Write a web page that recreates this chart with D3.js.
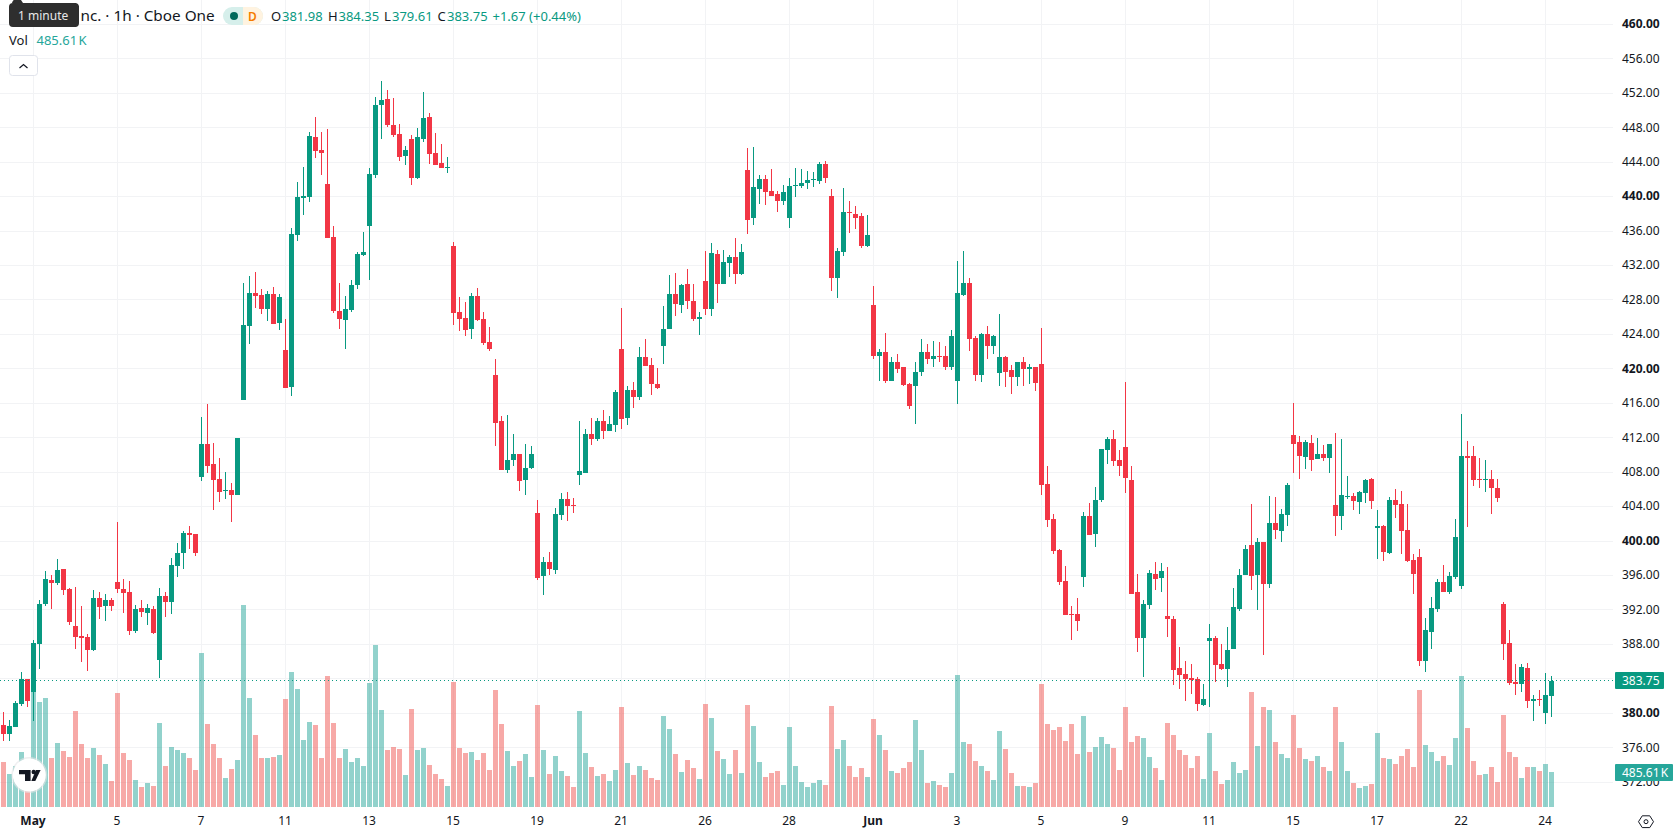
<!DOCTYPE html>
<html>
<head>
<meta charset="utf-8">
<title>1h candles</title>
<script src="https://cdnjs.cloudflare.com/ajax/libs/d3/7.8.5/d3.min.js"></script>
<style>
  html, body { margin: 0; padding: 0; background: #fff; overflow: hidden; }
  svg { display: block; font-family: "Noto Sans", sans-serif; }
  .crisp { shape-rendering: crispEdges; }
</style>
</head>
<body>
<svg id="chart" width="1678" height="835"></svg>
<script>
// Hourly session bars, oldest first
const opens = [
378.64,377.60,378.41,381.09,383.99,382.48,388.06,392.71,395.50,395.16,
396.78,394.46,390.16,388.99,388.88,387.36,393.41,392.48,393.18,395.27,
394.46,394.11,389.57,392.25,391.67,392.13,386.20,393.64,392.95,397.13,
398.64,400.97,400.85,407.48,411.32,408.99,407.25,405.85,405.97,405.39,
416.39,424.99,428.83,428.60,426.97,428.71,425.34,422.20,417.90,435.57,
439.88,439.99,446.97,445.46,441.50,435.34,426.74,425.69,426.85,429.76,
433.25,436.62,442.55,450.69,451.39,448.36,447.32,444.67,446.64,442.22,
446.64,449.20,445.02,443.85,443.27,434.32,426.64,425.95,424.67,428.50,
425.83,423.16,419.32,413.97,408.27,409.43,410.16,407.13,408.53,403.29,
395.97,397.60,396.67,403.06,404.92,404.23,407.69,407.92,412.46,411.88,
413.97,412.81,413.50,422.34,414.32,417.57,416.76,421.41,420.48,418.27,
422.69,424.67,428.74,427.46,429.90,427.92,425.83,430.25,426.99,433.39,
429.90,432.34,433.04,431.06,443.04,437.46,440.83,441.99,440.60,440.25,
439.55,437.57,441.18,441.18,441.53,441.88,441.76,443.74,440.13,430.60,
433.62,438.26,438.02,437.79,434.30,427.36,421.55,421.90,418.64,420.74,
420.16,418.29,418.06,419.69,421.90,421.20,421.55,421.55,420.27,418.64,
428.53,429.92,423.53,419.34,423.99,422.71,419.57,421.43,419.81,419.11,
420.74,420.04,420.16,420.62,406.67,402.60,398.99,395.39,391.55,391.55,
395.85,402.95,400.85,404.81,410.62,411.90,409.46,410.97,407.13,394.11,
388.76,392.60,396.20,395.74,391.32,390.97,385.27,384.57,384.11,383.99,
380.97,388.41,388.76,385.74,385.16,387.48,392.13,396.04,399.53,396.04,
399.88,394.99,402.09,401.15,403.02,412.32,411.50,409.76,411.39,409.53,
410.11,409.64,404.18,402.90,405.11,405.22,404.53,405.57,407.20,401.50,
401.74,398.60,404.76,404.29,401.27,397.78,398.13,386.04,389.41,392.09,
395.22,394.06,395.81,394.76,409.88,409.88,407.20,407.09,407.20,406.16,
392.67,388.13,383.60,383.36,385.22,381.43,381.67,380.04,381.98];

const highs = [
380.16,379.22,381.43,384.81,383.99,388.53,393.18,396.55,396.09,397.95,
396.78,394.57,394.69,392.48,389.22,394.34,394.11,393.88,393.41,402.25,
395.62,395.39,392.60,393.18,392.71,392.48,394.57,394.11,398.06,399.81,
401.20,401.78,400.85,414.46,415.92,411.43,409.69,408.06,406.78,412.02,
429.99,430.81,431.27,429.29,429.06,429.53,428.71,425.81,436.39,441.74,
443.48,447.55,449.29,447.55,447.90,436.62,429.99,428.48,430.34,433.60,
435.92,443.36,451.62,453.48,452.43,451.50,448.48,445.83,447.11,447.92,
452.11,449.67,447.34,446.06,444.55,434.78,428.39,427.81,428.85,429.43,
426.64,424.90,421.18,414.55,414.67,412.46,410.16,411.32,411.09,404.81,
398.18,398.76,403.88,405.62,405.74,405.04,413.97,413.04,414.32,414.32,
415.25,414.55,417.57,427.11,418.04,418.50,422.57,423.50,421.29,420.13,
427.34,430.95,431.18,429.90,431.64,429.90,426.64,433.74,434.67,433.85,
433.85,433.27,435.25,434.55,445.60,445.71,442.46,442.46,443.16,440.71,
441.30,442.22,443.27,443.16,442.92,442.81,443.97,444.09,440.83,434.09,
441.05,439.55,438.95,438.14,437.91,429.57,422.25,424.11,421.32,421.67,
420.16,418.41,420.85,423.41,422.83,423.29,423.06,422.60,424.46,432.48,
433.64,430.50,423.76,424.22,424.92,423.88,426.32,421.55,420.50,420.74,
421.32,420.62,420.27,424.69,408.76,403.18,399.11,397.13,392.48,393.41,
403.41,404.46,406.32,410.74,412.13,412.95,410.62,418.53,408.76,396.20,
393.18,396.67,397.60,397.48,397.02,391.32,387.71,386.09,385.74,384.22,
383.41,390.39,388.99,388.06,390.04,394.57,396.78,399.53,404.29,400.34,
399.88,405.22,405.11,403.71,406.74,416.04,412.20,411.74,412.32,411.97,
411.15,411.27,412.55,411.85,407.55,405.57,405.81,407.20,407.32,403.60,
401.85,405.11,406.04,405.81,404.29,398.48,399.06,391.04,393.48,395.57,
397.20,396.39,402.55,414.76,411.62,411.04,409.64,409.41,408.25,407.20,
392.90,389.64,385.69,385.69,385.81,382.13,382.71,384.69,384.35];

const lows = [
376.78,376.78,378.41,380.85,380.74,379.11,385.16,392.48,392.13,394.92,
393.76,390.27,387.48,385.97,384.92,387.25,390.97,390.74,391.90,393.99,
391.67,389.11,389.34,391.20,390.27,389.22,384.11,391.20,391.55,395.85,
396.78,399.11,398.29,407.02,407.95,403.64,404.57,404.92,402.25,405.39,
416.39,422.90,427.09,426.39,425.57,425.22,424.53,417.78,416.85,434.88,
437.90,439.41,444.53,442.55,435.22,426.50,424.64,422.32,426.62,429.29,
433.13,430.34,442.20,446.74,448.13,446.97,444.18,443.62,441.30,441.99,
446.29,443.74,443.62,443.27,442.69,425.13,424.43,423.85,423.50,425.60,
422.81,422.11,411.06,408.27,407.92,408.74,405.85,405.39,408.41,395.50,
393.76,396.09,396.20,402.48,402.36,403.29,406.55,407.92,411.18,411.64,
411.88,412.81,412.69,413.04,413.50,415.48,416.41,420.36,416.99,417.69,
420.60,424.67,426.18,426.53,426.99,425.60,423.97,426.29,426.18,427.69,
429.90,430.71,429.90,430.95,435.71,436.76,439.20,438.97,440.02,438.27,
438.97,436.41,439.90,440.95,440.83,441.06,441.41,441.53,429.09,428.27,
433.16,435.72,436.28,434.07,434.19,421.20,418.64,418.41,418.64,419.57,
418.06,415.39,413.64,419.22,420.62,420.16,420.74,419.81,419.81,415.97,
428.41,422.13,418.64,418.53,421.20,421.78,418.06,417.95,417.13,418.06,
418.06,418.29,417.48,405.39,401.67,398.53,394.92,391.43,388.53,389.57,
394.69,400.74,399.34,404.57,408.99,408.76,407.60,405.62,393.88,387.13,
384.22,392.13,394.34,394.11,388.88,383.29,382.83,381.43,382.25,380.27,
380.85,380.74,383.64,385.04,383.06,387.48,391.90,396.04,394.29,391.97,
386.74,394.53,400.22,399.88,401.74,407.90,407.20,408.36,408.13,409.53,
409.29,407.90,400.57,401.27,404.88,403.60,403.13,404.41,403.71,397.90,
397.67,398.48,402.67,398.48,397.55,393.83,385.46,384.76,387.43,391.74,
394.06,393.83,395.57,394.41,401.62,406.39,406.16,405.69,403.13,404.53,
386.16,383.25,382.09,382.43,380.57,379.11,380.85,378.76,379.61];

const closes = [
377.60,378.53,381.20,383.99,381.43,388.18,392.71,395.62,395.16,396.67,
394.34,390.62,388.88,388.76,387.36,393.41,392.36,393.18,392.48,394.46,
393.99,389.57,392.13,391.78,392.25,389.34,393.64,392.95,397.25,398.64,
400.97,400.74,398.64,411.32,408.76,407.13,405.74,405.97,405.39,412.02,
425.11,428.83,428.48,426.97,428.71,425.22,428.36,417.78,435.69,439.99,
440.11,447.09,445.34,445.11,435.22,426.74,425.81,426.97,429.76,433.36,
433.60,442.67,450.69,451.27,448.36,447.20,444.64,445.36,442.22,446.88,
449.09,444.90,443.62,443.27,443.39,426.53,425.83,424.55,428.50,425.71,
423.04,422.34,413.74,408.27,409.43,410.13,407.02,408.53,410.16,395.74,
397.60,396.78,403.18,404.92,404.11,404.11,408.16,412.46,411.88,413.97,
412.81,413.62,417.34,414.20,417.57,416.76,421.41,420.36,418.27,417.81,
424.67,428.74,427.57,429.78,427.92,425.83,426.06,426.99,433.50,429.90,
432.46,433.04,431.06,433.62,437.34,441.06,441.99,440.48,440.13,439.55,
440.48,441.18,441.30,441.64,441.88,441.99,443.74,442.11,430.60,433.74,
438.26,438.15,437.56,434.30,435.58,421.55,421.90,418.64,420.74,420.04,
418.18,415.74,419.69,421.90,421.20,421.55,421.43,420.27,423.76,428.76,
429.92,423.41,419.34,423.99,422.71,423.76,421.43,419.69,419.11,420.74,
420.04,420.16,418.41,406.55,402.48,398.88,395.27,391.43,391.43,390.74,
402.95,400.74,404.81,410.74,411.90,409.34,408.76,407.36,393.88,388.76,
392.71,396.32,395.62,396.55,390.97,385.04,384.46,383.99,383.88,381.09,
381.67,388.76,385.62,385.16,387.36,392.36,396.09,399.06,395.92,399.88,
394.99,402.09,401.27,403.13,406.50,411.27,409.88,411.50,409.41,410.11,
409.64,411.27,402.90,405.34,405.22,404.64,405.69,407.09,404.64,401.74,
398.71,404.76,404.18,401.15,397.67,396.15,386.04,389.64,392.20,395.22,
394.06,395.92,400.46,409.88,409.64,407.09,407.09,407.20,406.16,404.99,
388.02,383.48,383.36,385.34,381.39,381.67,381.55,382.08,383.75];

// Volume per bar, in thousands of shares
const volumes = [
624,458,569,763,398,1600,1457,1512,680,888,
777,694,1332,874,680,819,722,597,361,1582,
749,652,375,278,333,291,1166,569,833,791,
749,680,513,2137,1152,874,680,402,527,652,
2803,1512,999,680,680,694,722,1499,1873,1637,
930,1179,1138,680,1818,1166,680,805,624,680,
569,1721,2248,1346,791,833,805,444,1360,791,
819,583,458,389,291,1734,819,749,763,652,
749,513,1623,1152,777,569,638,735,416,1415,
791,458,708,500,430,278,1332,749,555,430,
458,361,513,1388,611,444,569,513,402,375,
1263,1082,735,486,652,541,389,1429,1235,777,
666,458,791,472,1415,1124,624,416,472,500,
305,1110,569,347,278,333,375,305,1401,805,
930,569,416,541,416,1221,999,791,500,472,
541,624,1207,791,333,361,305,278,472,1832,
902,874,638,569,500,375,1055,805,472,291,
291,278,333,1707,1152,1068,1110,916,1152,735,
1263,763,833,971,874,819,513,1388,902,985,
957,694,541,375,1166,999,791,722,541,708,
389,1027,500,319,375,624,472,513,1596,846,
1388,1346,902,735,680,1277,819,666,638,708,
555,500,1388,902,500,333,264,291,319,1027,
680,666,597,708,805,555,1623,860,763,638,
708,583,957,1818,1096,638,444,458,555,347,
1277,763,694,402,555,555,500,597,485.61];

// Time axis: bar index of each labelled session and its label
const timeTickBars = [5,19,33,47,61,75,89,103,117,131,145,159,173,187,201,215,229,243,257];
const timeTickLabels = ["May","5","7","11","13","15","19","21","26","28","Jun","3","5","9","11","15","17","22","24"];
const boldTimeLabels = ["May","Jun"];

// Price axis ticks
const priceTicks = d3.range(372, 461, 4);
const roundPriceStep = 20;

const titleText = "nc. \u00B7 1h \u00B7 Cboe One";
const hoverHint = "1 minute";

const UP = "#089981", DOWN = "#F23645";
const VOL_UP = "#26a69a", VOL_DOWN = "#ef5350";
const GRID = "#f2f3f5", INK = "#131722";

const paneRight = 1613, paneBottom = 807;

const bars = opens.map((o, i) => ({
  i, o, h: highs[i], l: lows[i], c: closes[i], v: volumes[i], up: closes[i] >= o
}));
const last = bars[bars.length - 1];

const x = d3.scaleLinear().domain([0, bars.length - 1]).range([3.5, 1551.5]);
const y = d3.scaleLinear().domain([380, 460]).range([713.3, 24.4]);
const yVol = d3.scaleLinear().domain([0, d3.max(volumes)]).range([paneBottom, 605]);

const svg = d3.select("#chart");

// Grid
const grid = svg.append("g").attr("class", "crisp").attr("stroke", GRID);
grid.selectAll("line.h").data(priceTicks).join("line").attr("class", "h")
  .attr("x1", 0).attr("x2", paneRight)
  .attr("y1", d => Math.floor(y(d)) + 0.5).attr("y2", d => Math.floor(y(d)) + 0.5);
grid.selectAll("line.v").data(timeTickBars).join("line").attr("class", "v")
  .attr("y1", 0).attr("y2", paneBottom)
  .attr("x1", d => x(d)).attr("x2", d => x(d));

// Volume histogram sits under the candles
svg.append("g").attr("class", "crisp").selectAll("rect").data(bars).join("rect")
  .attr("x", d => x(d.i) - 2.5).attr("width", 5)
  .attr("y", d => Math.round(yVol(d.v)))
  .attr("height", d => paneBottom - Math.round(yVol(d.v)))
  .attr("fill", d => d.up ? VOL_UP : VOL_DOWN)
  .attr("fill-opacity", 0.5);

// Candles: wick, then body
const candle = svg.append("g").attr("class", "crisp").selectAll("g").data(bars).join("g")
  .attr("fill", d => d.up ? UP : DOWN);
candle.append("rect")
  .attr("x", d => x(d.i) - 0.5).attr("width", 1)
  .attr("y", d => Math.round(y(d.h)))
  .attr("height", d => Math.max(1, Math.round(y(d.l)) - Math.round(y(d.h))));
candle.append("rect")
  .attr("x", d => x(d.i) - 2.5).attr("width", 5)
  .attr("y", d => Math.round(y(Math.max(d.o, d.c))))
  .attr("height", d => Math.max(1, Math.round(y(Math.min(d.o, d.c))) - Math.round(y(Math.max(d.o, d.c)))));

// Last price line, dotted, drawn on the pixel row above the scale position
const lastRow = Math.floor(y(last.c)) - 0.5;
svg.append("line").attr("class", "crisp")
  .attr("x1", 0).attr("x2", 1615)
  .attr("y1", lastRow).attr("y2", lastRow)
  .attr("stroke", UP).attr("stroke-dasharray", "1 3");

// Axes
const yAxis = d3.axisRight(y).tickValues(priceTicks).tickSize(0).tickPadding(0).offset(0)
  .tickFormat(d3.format(".2f"));
const yG = svg.append("g").attr("transform", "translate(1622,0)").call(yAxis);
yG.select(".domain").remove();
yG.selectAll("text")
  .attr("font-family", '"Noto Sans", sans-serif').attr("font-size", 12).attr("fill", INK)
  .attr("font-weight", d => d % roundPriceStep === 0 ? 700 : 400);

const xAxis = d3.axisBottom(x).tickValues(timeTickBars).tickSize(0).tickPadding(0).offset(0)
  .tickFormat((d, i) => timeTickLabels[i]);
const xG = svg.append("g").attr("transform", "translate(-0.5,816.5)").call(xAxis);
xG.select(".domain").remove();
xG.selectAll("text")
  .attr("font-family", '"Noto Sans", sans-serif').attr("font-size", 12).attr("fill", INK)
  .attr("font-weight", (d, i) => boldTimeLabels.includes(timeTickLabels[i]) ? 700 : 400);

// Price and volume tags on the axis
const fmt2 = d3.format(".2f");
const volText = fmt2(last.v) + "\u200AK";
const tag = (top, h, w, fill, label) => {
  svg.append("rect").attr("x", 1615).attr("y", top).attr("width", w).attr("height", h)
    .attr("rx", 1).attr("fill", fill);
  svg.append("text").attr("x", 1622).attr("y", top + h / 2).attr("dy", "0.36em")
    .attr("font-size", 12).attr("fill", "#fff").text(label);
};
tag(672, 17, 49, UP, fmt2(last.c));
tag(764, 17, 58, VOL_UP, volText);

// Settings hexagon in the corner
const hex = d3.range(6).map(k => {
  const a = k * Math.PI / 3;
  return [1646 + 7.5 * Math.cos(a), 821.7 + 6.8 * Math.sin(a)];
});
svg.append("path").attr("d", d3.line().curve(d3.curveLinearClosed)(hex))
  .attr("fill", "none").attr("stroke", INK).attr("stroke-width", 1);
svg.append("circle").attr("cx", 1646).attr("cy", 821.7).attr("r", 2)
  .attr("fill", "none").attr("stroke", INK);

// Legend header
const legend = svg.append("g");
legend.append("text").attr("x", 80.5).attr("y", 21).attr("font-size", 15.3).attr("fill", INK).text(titleText);

legend.append("rect").attr("x", 223).attr("y", 7).attr("width", 40).attr("height", 18).attr("rx", 9).attr("fill", "#d6efeb");
legend.append("path").attr("d", "M243 7H254a9 9 0 0 1 0 18H243Z").attr("fill", "#fff3e0");
legend.append("circle").attr("cx", 234).attr("cy", 16).attr("r", 4).attr("fill", "#00695c");
legend.append("text").attr("x", 252.5).attr("y", 20.5).attr("text-anchor", "middle")
  .attr("font-size", 12).attr("font-weight", 600).attr("fill", "#f57c00").text("D");

const ohlc = [["O", last.o, 271, 282], ["H", last.h, 328, 338.5], ["L", last.l, 384, 392], ["C", last.c, 437.5, 447]];
ohlc.forEach(([k, v, kx, vx]) => {
  legend.append("text").attr("x", kx).attr("y", 21).attr("font-size", 13).attr("fill", INK).text(k);
  legend.append("text").attr("x", vx).attr("y", 21).attr("font-size", 13).attr("fill", UP).text(fmt2(v));
});
const prevClose = closes[closes.length - 2];
const change = last.c - prevClose;
legend.append("text").attr("x", 492.5).attr("y", 21).attr("font-size", 13).attr("fill", UP)
  .text("+" + fmt2(change) + " (+" + fmt2(change / prevClose * 100) + "%)");

legend.append("text").attr("x", 9).attr("y", 45).attr("font-size", 13).attr("fill", INK).text("Vol");
legend.append("text").attr("x", 36.5).attr("y", 45).attr("font-size", 13).attr("fill", VOL_UP).text(volText);

legend.append("rect").attr("x", 9.5).attr("y", 55.5).attr("width", 28).attr("height", 20).attr("rx", 3)
  .attr("fill", "#fff").attr("stroke", "#e0e3eb");
legend.append("path").attr("d", "M19.5 68L23.5 64.5L27.5 68").attr("fill", "none").attr("stroke", INK).attr("stroke-width", 1.2);

// Hover hint over the start of the title
legend.append("path").attr("d", "M9 7a4 4 0 0 1 4-4h-1a5 5 0 0 1 8-3h1l2 3h53a4 4 0 0 1 3 3v17a4 4 0 0 1-3 4H13a4 4 0 0 1-4-4Z").attr("fill", "#2e2e2e");
legend.append("text").attr("x", 18).attr("y", 20).attr("font-size", 12).attr("fill", "#e8e8e8").text(hoverHint);

// Round badge with the platform mark
const badge = svg.append("g").attr("transform", "translate(29.3,775)");
badge.append("circle").attr("r", 18).attr("fill", "#e4e4e6").attr("fill-opacity", 0.6);
badge.append("circle").attr("r", 16.5).attr("fill", "#fff");
badge.append("path").attr("d", "M-10.3 -5H1.3V6H-4.3V-0.7H-10.3Z").attr("fill", "#131722");
badge.append("circle").attr("cx", 4.4).attr("cy", -3).attr("r", 2.2).attr("fill", "#131722");
badge.append("path").attr("d", "M6.7 -5H11.3L6 6H2Z").attr("fill", "#131722");
</script>
</body>
</html>
